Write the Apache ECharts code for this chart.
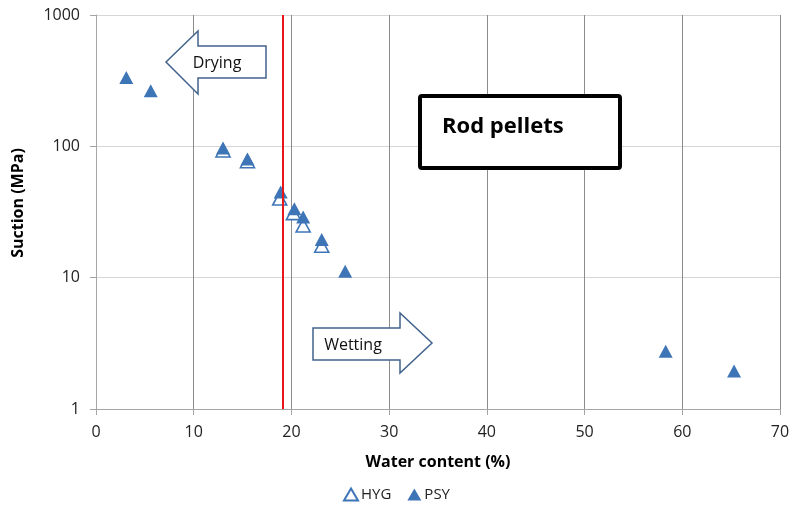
<!DOCTYPE html>
<html>
<head>
<meta charset="utf-8">
<script src="https://cdn.jsdelivr.net/npm/echarts@6/dist/echarts.min.js"></script>
<style>
  html, body { margin: 0; padding: 0; background: #fff; }
  #chart { width: 793px; height: 512px; }
</style>
</head>
<body>
<div id="chart"></div>
<script>
// Water content (%) vs suction (MPa) for rod pellets
const hygWater   = [13.0, 15.5, 18.8, 20.2, 21.2, 23.1];
const hygSuction = [93, 77, 40, 31, 25, 17.5];

const psyWater   = [3.1, 5.6, 13.0, 15.5, 18.9, 20.3, 21.2, 23.1, 25.5, 58.3, 65.3];
const psySuction = [335, 265, 97, 80, 45, 33.5, 29, 19.5, 11.2, 2.75, 1.95];

const xTicks = [0, 10, 20, 30, 40, 50, 60, 70];
const yTicks = [1, 10, 100, 1000];
const dividerWater = 19.1;

const pair = (xs, ys) => xs.map((x, i) => [x, ys[i]]);

const blue = '#3e75b6';
const arrowBlue = '#41638c';
const font = '"Open Sans", "Liberation Sans", sans-serif';

const chart = echarts.init(document.getElementById('chart'), null, { renderer: 'canvas' });

chart.setOption({
  animation: false,
  backgroundColor: '#fff',
  grid: { left: 96, right: 13, top: 15, bottom: 103, containLabel: false },
  xAxis: {
    type: 'value',
    min: xTicks[0],
    max: xTicks[xTicks.length - 1],
    interval: 10,
    name: 'Water content (%)',
    nameLocation: 'middle',
    nameGap: 45,
    nameTextStyle: { fontFamily: font, fontWeight: 'bold', fontSize: 16, color: '#000' },
    axisLine: { lineStyle: { color: '#a6a6a6', width: 1 } },
    axisTick: { show: true, length: 6, lineStyle: { color: '#a6a6a6' } },
    axisLabel: { fontFamily: font, fontSize: 16, color: '#222', margin: 15 },
    splitLine: { show: true, lineStyle: { color: '#8c8c8c', width: 1 } }
  },
  yAxis: {
    type: 'log',
    logBase: 10,
    min: yTicks[0],
    max: yTicks[yTicks.length - 1],
    axisLine: { show: true, lineStyle: { color: '#a6a6a6', width: 1 } },
    axisTick: { show: true, length: 6, lineStyle: { color: '#a6a6a6' } },
    axisLabel: {
      fontFamily: font, fontSize: 16, color: '#222', margin: 16,
      formatter: v => String(Math.round(v))
    },
    splitLine: { show: true, lineStyle: { color: '#d6d6d6', width: 1 } }
  },
  legend: {
    top: 482,
    left: 'center',
    itemWidth: 14,
    itemHeight: 12,
    itemGap: 16,
    textStyle: { fontFamily: font, fontSize: 15, color: '#222', padding: [0, 0, 0, -2] },
    data: [
      { name: 'HYG', icon: 'triangle' },
      { name: 'PSY', icon: 'triangle' }
    ]
  },
  series: [
    {
      name: 'HYG',
      type: 'scatter',
      symbol: 'triangle',
      symbolSize: [14, 13],
      itemStyle: { color: '#fff', borderColor: blue, borderWidth: 1.6, opacity: 1 },
      data: pair(hygWater, hygSuction),
      z: 3
    },
    {
      name: 'PSY',
      type: 'scatter',
      symbol: 'triangle',
      symbolSize: [14, 13],
      itemStyle: { color: blue, opacity: 1 },
      data: pair(psyWater, psySuction),
      z: 4,
      markLine: {
        silent: true,
        symbol: ['none', 'none'],
        label: { show: false },
        lineStyle: { color: '#e8161b', width: 2, type: 'solid' },
        data: [{ xAxis: dividerWater }]
      }
    }
  ],
  graphic: [
    {
      type: 'text',
      x: 18, y: 203,
      rotation: Math.PI / 2,
      style: {
        text: 'Suction (MPa)',
        font: 'bold 16px ' + font,
        fill: '#000',
        align: 'center',
        verticalAlign: 'middle'
      }
    },
    // Drying arrow (pointing left)
    {
      type: 'polygon',
      shape: { points: [[166, 62], [198, 31], [198, 46], [266, 46], [266, 78], [198, 78], [198, 94]] },
      style: { fill: '#fff', stroke: arrowBlue, lineWidth: 1.5 },
      z: 10
    },
    {
      type: 'text',
      x: 217, y: 63,
      style: { text: 'Drying', font: '16px ' + font, fill: '#111', align: 'center', verticalAlign: 'middle' },
      z: 11
    },
    // Wetting arrow (pointing right)
    {
      type: 'polygon',
      shape: { points: [[313, 328], [400, 328], [400, 313], [432, 343], [400, 373], [400, 360], [313, 360]] },
      style: { fill: '#fff', stroke: arrowBlue, lineWidth: 1.5 },
      z: 10
    },
    {
      type: 'text',
      x: 353, y: 345,
      style: { text: 'Wetting', font: '16px ' + font, fill: '#111', align: 'center', verticalAlign: 'middle' },
      z: 11
    },
    // Title box
    {
      type: 'rect',
      shape: { x: 420, y: 96, width: 200, height: 72, r: 2 },
      style: { fill: '#fff', stroke: '#000', lineWidth: 4 },
      z: 10
    },
    {
      type: 'text',
      x: 442, y: 127,
      style: { text: 'Rod pellets', font: 'bold 22px ' + font, fill: '#000', align: 'left', verticalAlign: 'middle' },
      z: 11
    }
  ]
});
</script>
</body>
</html>
